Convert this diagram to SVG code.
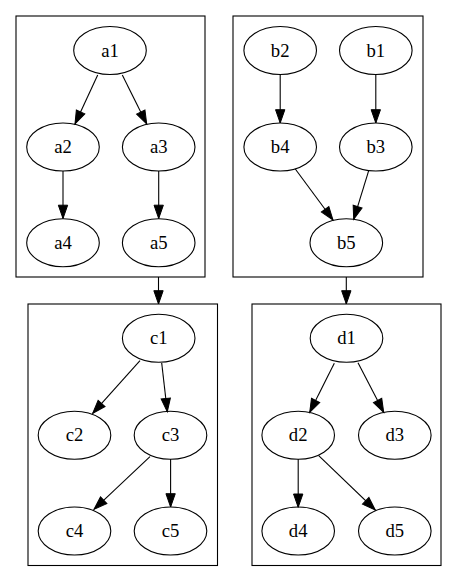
<svg xmlns="http://www.w3.org/2000/svg" width="457" height="581" viewBox="0 0 457 581">
<style>
.cl{fill:none;stroke:#000;stroke-width:1.1}
.nd ellipse{fill:none;stroke:#000;stroke-width:1.1}
.nd text{font-family:"Liberation Serif","Times New Roman",serif;font-size:18.67px;text-anchor:middle;fill:#000}
.ed line{stroke:#000;stroke-width:1.1;marker-end:url(#ah)}
</style>
<defs>
<marker id="ah" markerUnits="userSpaceOnUse" markerWidth="14" markerHeight="10" refX="13.3" refY="4.67" orient="auto" overflow="visible">
<path d="M0,0 L13.3,4.67 L0,9.33 z" fill="#000" stroke="#000" stroke-width="1"/>
</marker>
</defs>
<rect fill="#fff" width="457" height="581"/>
<g id="clusters">
<rect id="cluster_a" class="cl" x="16" y="16" width="189" height="261"/>
<rect id="cluster_b" class="cl" x="233" y="16" width="190" height="261"/>
<rect id="cluster_c" class="cl" x="28" y="304" width="189.5" height="261.5"/>
<rect id="cluster_d" class="cl" x="252" y="304" width="189" height="261.5"/>
</g>
<g id="edges" class="ed">
<line x1="97.7" y1="75" x2="75" y2="124"/>
<line x1="122.3" y1="75" x2="146.7" y2="124"/>
<line x1="63" y1="171" x2="63" y2="218.5"/>
<line x1="158.7" y1="171" x2="158.7" y2="218.5"/>
<line x1="280.2" y1="74" x2="280.2" y2="123"/>
<line x1="375.8" y1="74" x2="375.8" y2="123"/>
<line x1="295.3" y1="169" x2="333" y2="220"/>
<line x1="368.7" y1="170.7" x2="353.7" y2="219.3"/>
<line x1="158.5" y1="277" x2="158.5" y2="304"/>
<line x1="346.3" y1="277" x2="346.3" y2="304"/>
<line x1="140" y1="360.7" x2="92.7" y2="413.3"/>
<line x1="161.7" y1="363" x2="167.3" y2="411.7"/>
<line x1="150" y1="456.7" x2="94" y2="509.3"/>
<line x1="170.6" y1="459" x2="170.6" y2="507"/>
<line x1="334.3" y1="363.3" x2="309.7" y2="412.3"/>
<line x1="358" y1="362.7" x2="383.7" y2="412.3"/>
<line x1="298.2" y1="459" x2="298.2" y2="507.3"/>
<line x1="318.7" y1="455.7" x2="375.3" y2="510"/>
</g>
<g id="a1" class="nd"><ellipse cx="110" cy="50.5" rx="36.3" ry="24"/><text x="110" y="56.5">a1</text></g>
<g id="a2" class="nd"><ellipse cx="63" cy="147" rx="36.3" ry="24"/><text x="63" y="153">a2</text></g>
<g id="a3" class="nd"><ellipse cx="158.7" cy="147" rx="36.3" ry="24"/><text x="158.7" y="153">a3</text></g>
<g id="a4" class="nd"><ellipse cx="63" cy="242.7" rx="36.3" ry="24"/><text x="63" y="248.7">a4</text></g>
<g id="a5" class="nd"><ellipse cx="158.7" cy="242.7" rx="36.3" ry="24"/><text x="158.7" y="248.7">a5</text></g>
<g id="b2" class="nd"><ellipse cx="280.2" cy="50.5" rx="36.3" ry="24"/><text x="280.2" y="56.5">b2</text></g>
<g id="b1" class="nd"><ellipse cx="375.8" cy="50.5" rx="36.3" ry="24"/><text x="375.8" y="56.5">b1</text></g>
<g id="b4" class="nd"><ellipse cx="280.2" cy="147" rx="36.3" ry="24"/><text x="280.2" y="153">b4</text></g>
<g id="b3" class="nd"><ellipse cx="375.8" cy="147" rx="36.3" ry="24"/><text x="375.8" y="153">b3</text></g>
<g id="b5" class="nd"><ellipse cx="346.3" cy="242.7" rx="36.3" ry="24"/><text x="346.3" y="248.7">b5</text></g>
<g id="c1" class="nd"><ellipse cx="158.7" cy="338.3" rx="36.3" ry="24"/><text x="158.7" y="344.3">c1</text></g>
<g id="c2" class="nd"><ellipse cx="74.5" cy="435.3" rx="36.3" ry="24"/><text x="74.5" y="441.3">c2</text></g>
<g id="c3" class="nd"><ellipse cx="170.5" cy="435.3" rx="36.3" ry="24"/><text x="170.5" y="441.3">c3</text></g>
<g id="c4" class="nd"><ellipse cx="74.5" cy="531" rx="36.3" ry="24"/><text x="74.5" y="537">c4</text></g>
<g id="c5" class="nd"><ellipse cx="170.5" cy="531" rx="36.3" ry="24"/><text x="170.5" y="537">c5</text></g>
<g id="d1" class="nd"><ellipse cx="346.5" cy="338.3" rx="36.3" ry="24"/><text x="346.5" y="344.3">d1</text></g>
<g id="d2" class="nd"><ellipse cx="298.2" cy="435.3" rx="36.3" ry="24"/><text x="298.2" y="441.3">d2</text></g>
<g id="d3" class="nd"><ellipse cx="394.8" cy="435.3" rx="36.3" ry="24"/><text x="394.8" y="441.3">d3</text></g>
<g id="d4" class="nd"><ellipse cx="298.2" cy="531" rx="36.3" ry="24"/><text x="298.2" y="537">d4</text></g>
<g id="d5" class="nd"><ellipse cx="394.8" cy="531" rx="36.3" ry="24"/><text x="394.8" y="537">d5</text></g>
</svg>
